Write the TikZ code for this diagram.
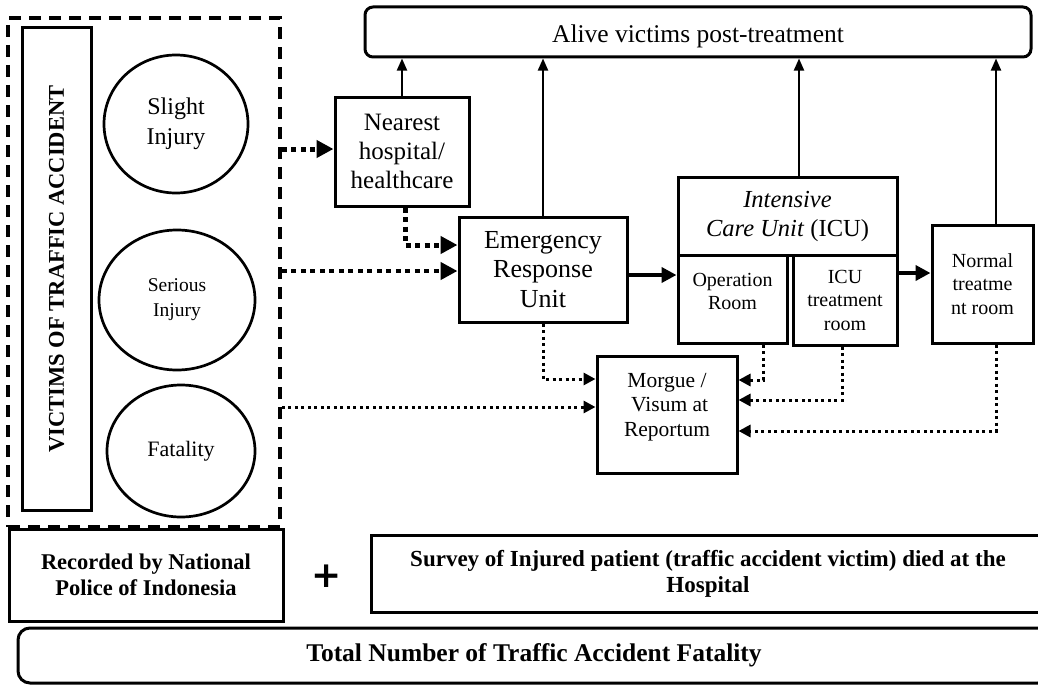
\documentclass[tikz,border=0pt]{standalone}
\usepackage{fontspec}
\setmainfont{Liberation Serif}
\newfontfamily\plusfont{DejaVu Sans}
\usetikzlibrary{arrows.meta,shapes.geometric}
\tikzset{
  box/.style={draw, line width=3pt, inner sep=0pt, align=center},
  ell/.style={draw, ellipse, line width=2.7pt, inner sep=0pt, align=center},
  dashframe/.style={draw, line width=3.5pt, dash pattern=on 12pt off 8pt, inner sep=0pt},
  up/.style={line width=2pt, -{Triangle[length=12pt,width=10pt]}},
  bigdot/.style={line width=5pt, dash pattern=on 5pt off 4.5pt, -{Triangle[length=17pt,width=17pt]}},
  smalldot/.style={line width=3pt, dash pattern=on 3pt off 3.5pt, -{Triangle[length=12pt,width=12pt]}},
  solidarrow/.style={line width=4.5pt, -{Triangle[length=15pt,width=15pt]}},
  fs/.style n args={2}{font=\fontsize{#1}{#2}\selectfont},
}
\begin{document}
\begin{tikzpicture}[x=1pt,y=-1pt]
\useasboundingbox (0,0) rectangle (1038,685);
\clip (0,0) rectangle (1038,685);

% left group
\node[dashframe, minimum width=272, minimum height=509] (dashbox) at (144,272.5) {};
\node[box, rotate=90, minimum width=482, minimum height=69, fs={22.5}{26}] (victims) at (56.5,269) {\bfseries VICTIMS OF TRAFFIC ACCIDENT};
\node[ell, minimum width=144, minimum height=138, fs={24}{30}] (slight) at (176,124) {Slight\\Injury};
\node[ell, minimum width=156, minimum height=140, fs={19.5}{25}] (serious) at (177,300) {Serious\\Injury};
\node[ell, minimum width=148, minimum height=132, fs={22}{26}] (fatal) at (181,451) {Fatality};

% top
\node[box, rounded corners=8pt, minimum width=666, minimum height=50, fs={25.5}{28}, text height=26pt] (alive) at (698,32) {Alive victims post-treatment};

% middle boxes
\node[box, minimum width=134, minimum height=109, fs={25}{29}] (nearest) at (402,151.5) {Nearest\\hospital/\\healthcare};
\node[box, minimum width=168, minimum height=105, fs={26}{29.5}] (emerg) at (543,269.5) {Emergency\\Response\\Unit};
\node[box, minimum width=219, minimum height=78, fs={24.5}{29}] (icu) at (787.5,216) {\textit{Intensive}\\\textit{Care Unit} (ICU)};
\node[box, minimum width=109, minimum height=88, fs={20}{23}, text depth=15pt] (oproom) at (732.5,299) {Operation\\Room};
\node[box, minimum width=104, minimum height=90, fs={20}{23.5}] (icut) at (845,300) {ICU\\treatment\\room};
\node[box, minimum width=101, minimum height=118, fs={20}{23.5}] (normal) at (982.5,284) {Normal\\treatme\\nt room};
\node[box, minimum width=140, minimum height=117, fs={21.5}{24.5}, text depth=20pt] (morgue) at (667,414.5) {Morgue /\\\ Visum at\\Reportum};

% bottom
\node[box, minimum width=274, minimum height=92, fs={22.5}{26}] (recorded) at (146,575) {\bfseries Recorded by National\\\bfseries Police of Indonesia};
\node[inner sep=0pt, font=\plusfont\bfseries\fontsize{36}{40}\selectfont] (plus) at (327,576) {+};
\node[box, minimum width=674, minimum height=77, fs={23}{26}] (survey) at (708,573.5) {\bfseries Survey of Injured patient (traffic accident victim) died at the\\\bfseries Hospital};
\node[box, rounded corners=12pt, minimum width=1032, minimum height=55, fs={25.5}{28}] (total) at (534,655.5) {\bfseries Total Number of Traffic Accident Fatality};

% upward arrows
\draw[up] (nearest.north) -- (alive.south -| nearest.north);
\draw[up] (emerg.north) -- (alive.south -| emerg.north);
\draw[up] (icu.north -| 799,0) -- (alive.south -| 799,0);
\draw[up] (normal.north -| 996,0) -- (alive.south -| 996,0);

% thick dotted arrows from the victims group
\draw[bigdot] (dashbox.east |- 0,149) -- (nearest.west |- 0,149);
\draw[bigdot] (nearest.south -| 405,0) |- (emerg.west |- 0,245);
\draw[bigdot, line width=4.5pt] (dashbox.east |- 0,271) -- (emerg.west |- 0,271);

% solid flow arrows
\draw[solidarrow] (emerg.east |- 0,275) -- (oproom.west |- 0,275);
\draw[solidarrow] (icut.east |- 0,273) -- (normal.west |- 0,273);

% to morgue
\draw[smalldot] (dashbox.east |- 0,407) -- (morgue.west |- 0,407);
\draw[smalldot] (emerg.south) |- (morgue.west |- 0,379);
\draw[smalldot] (oproom.south -| 763,0) |- (morgue.east |- 0,380);
\draw[smalldot] (icut.south -| 842,0) |- (morgue.east |- 0,400);
\draw[smalldot] (normal.south -| 996,0) |- (morgue.east |- 0,431);
\end{tikzpicture}
\end{document}
